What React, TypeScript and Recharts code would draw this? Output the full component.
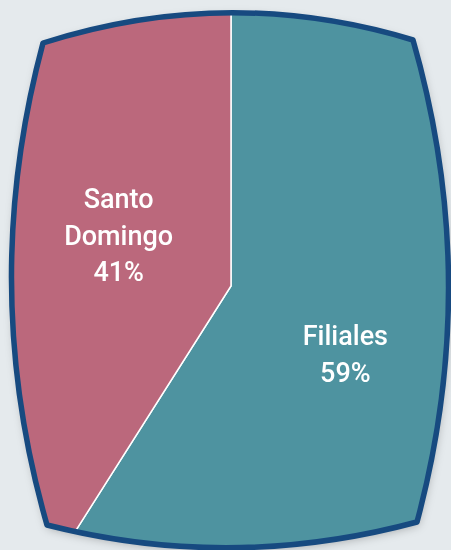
import { PieChart, Pie, Cell } from 'recharts';

// Shares by location
const names = ['Filiales', 'Santo Domingo'];
const values = [59, 41];
const colors = ['#4e93a0', '#bb687c'];

const W = 451;
const H = 550;
const BG = '#e5eaed';

// barrel-shaped frame around the pie
const frame =
  'M43,43 Q228,-16 413,40 Q482,280 417,522 Q231,572 47,525 Q-22,285 43,43 Z';

const data = names.map((name, i) => ({ name, value: values[i] }));
const total = values.reduce((a, b) => a + b, 0);

const RAD = Math.PI / 180;

function renderLabel(props: any) {
  const { cx, cy, midAngle, name, value } = props;
  const ang = (midAngle - 11.5) * RAD;
  const r = 128;
  const x = cx + r * Math.cos(ang) + 1;
  const y = cy - r * Math.sin(ang) + 8;
  const lines = [...String(name).split(' '), `${Math.round((value / total) * 100)}%`];
  const lh = 36.5;
  const first = y - ((lines.length - 1) / 2) * lh + 10;
  return (
    <text
      x={x}
      y={first}
      fill="#fff"
      textAnchor="middle"
      fontFamily="Roboto, sans-serif"
      fontWeight={500}
      fontSize={27}
    >
      {lines.map((l, i) => (
        <tspan key={i} x={x} y={first + i * lh}>
          {l}
        </tspan>
      ))}
    </text>
  );
}

export default function App() {
  return (
    <div style={{ position: 'absolute', left: 0, top: 0, width: W, height: H, background: BG, overflow: 'hidden' }}>
      <div style={{ position: 'absolute', inset: 0, filter: 'drop-shadow(1px 3px 5px rgba(0,0,0,0.28))' }}>
        <div style={{ position: 'absolute', inset: 0, clipPath: `path('${frame}')` }}>
          <PieChart width={W} height={H} margin={{ top: 0, right: 0, bottom: 0, left: 0 }}>
            <Pie
              data={data}
              dataKey="value"
              nameKey="name"
              cx={231}
              cy={286}
              outerRadius={340}
              startAngle={90}
              endAngle={-270}
              stroke="#ffffff"
              strokeWidth={1.5}
              label={renderLabel}
              labelLine={false}
              isAnimationActive={false}
            >
              {data.map((d, i) => (
                <Cell key={d.name} fill={colors[i]} />
              ))}
            </Pie>
          </PieChart>
        </div>
      </div>
      <svg width={W} height={H} style={{ position: 'absolute', left: 0, top: 0, pointerEvents: 'none' }}>
        <path d={frame} fill="none" stroke="#174a80" strokeWidth={5.5} strokeLinejoin="round" />
      </svg>
    </div>
  );
}
